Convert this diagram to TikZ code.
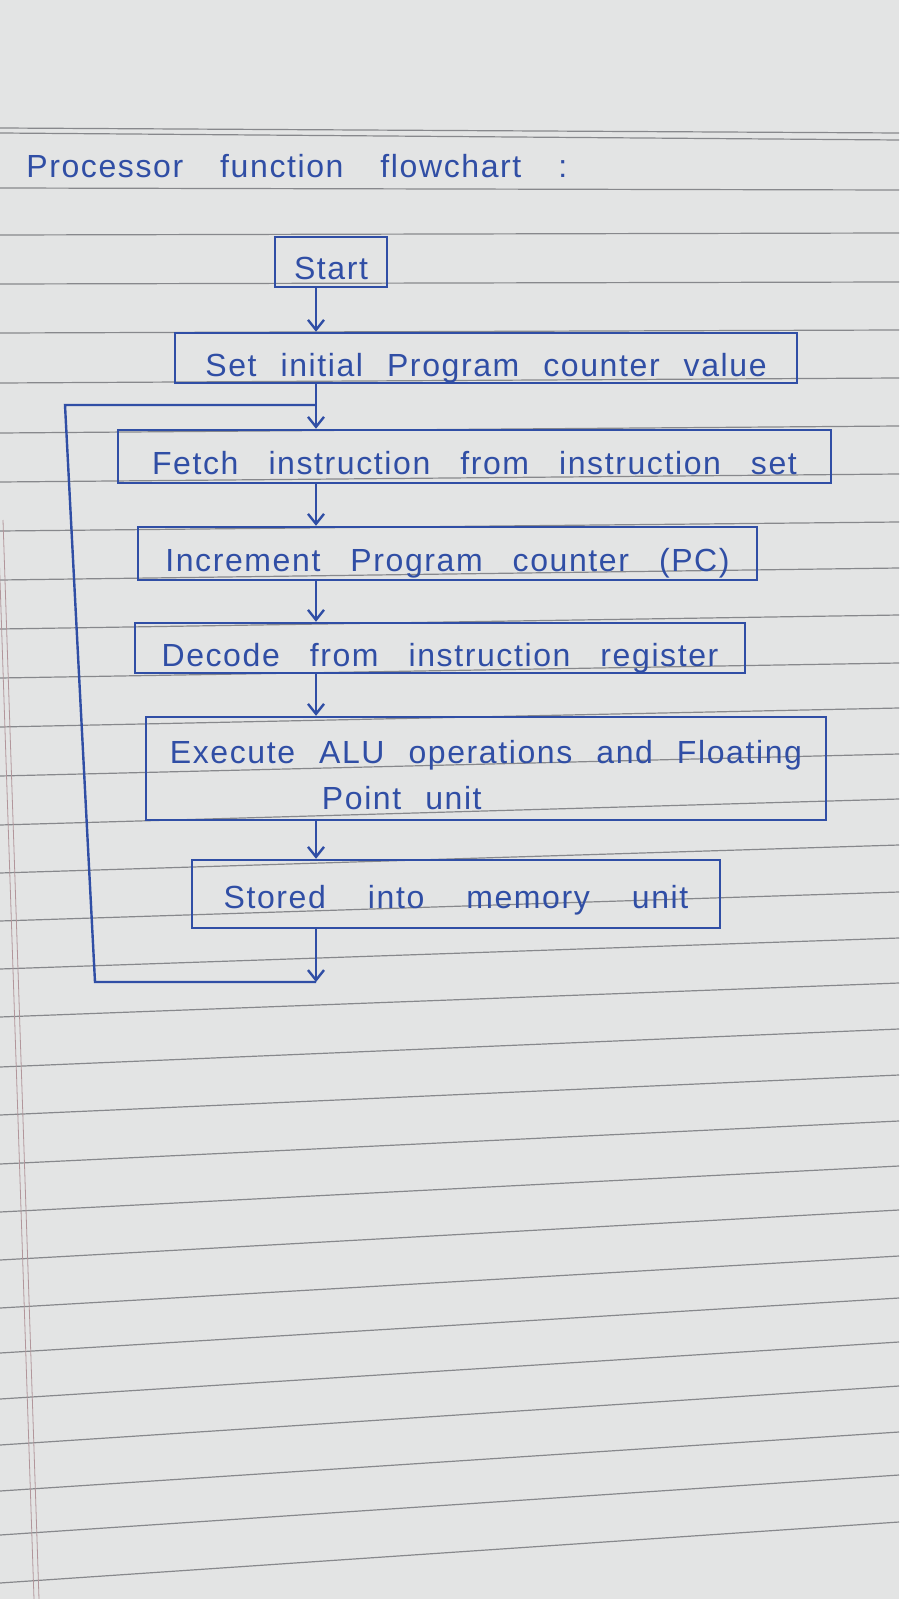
\documentclass[tikz,border=0pt]{standalone}
\usepackage{fontspec}
\setmainfont{Liberation Sans}
\newfontfamily\handfont{Liberation Sans}[LetterSpace=5]
\newcommand\gapn{\spaceskip=15pt\relax}
\newcommand\gapset{\spaceskip=12pt\relax}
\newcommand\gaptitle{\spaceskip=18.5pt\relax}
\newcommand\gapwide{\spaceskip=21pt\relax}
\usetikzlibrary{arrows.meta}
\definecolor{ink}{RGB}{48,78,165}
\definecolor{paper}{RGB}{227,228,228}
\definecolor{rulegray}{RGB}{135,136,140}
\definecolor{marginred}{RGB}{178,150,155}

\begin{document}
\begin{tikzpicture}[x=0.5pt,y=0.5pt,yscale=-1,
  hand/.style={text=ink,inner sep=0pt,font=\handfont\fontsize{16}{23}\selectfont,
    execute at begin node=\gapn},
  boxshape/.style={hand,draw=ink,line width=1.2pt},
  box/.style={boxshape,text height=18pt,text depth=0pt},
  flow/.style={draw=ink,line width=1.2pt,-{Straight Barb[length=5pt,width=8pt]}},
  wire/.style={draw=ink,line width=1.2pt},
  ruling/.style={draw=rulegray,line width=0.6pt}]
\useasboundingbox (0,0) rectangle (899,1599);

% paper
\fill[paper] (0,0) rectangle (899,1599);
\foreach \yl/\yr in {128/133,133/140,188/190,235/233,284/282,333/330,383/378,433/426,
  482/474,531/522,580/568,629/615,678/663,727/708,776/754,825/799,873/845,921/892,
  969/938,1017/983,1067/1029,1115/1075,1164/1121,1212/1166,1260/1210,1308/1256,
  1353/1298,1399/1342,1445/1386,1491/1432,1535/1475,1583/1522}
  \draw[ruling] (0,\yl) -- (899,\yr);
\draw[marginred,line width=0.4pt] (-2,520) -- (34,1599);
\draw[marginred,line width=0.4pt] (3,520) -- (39,1599);

% title
\node[hand,anchor=base west,execute at begin node=\gaptitle] (title) at (26,178) {Processor function flowchart :};

% boxes
\node[box,minimum width=56pt,minimum height=25pt] (start) at (331,262) {Start};
\node[box,minimum width=311pt,minimum height=25pt,execute at begin node=\gapset] (setpc) at (486,358) {Set initial Program counter value};
\node[box,minimum width=356.5pt,minimum height=26.5pt] (fetch) at (474.5,456.5) {Fetch instruction from instruction set};
\node[box,minimum width=309.5pt,minimum height=26.5pt] (incpc) at (447.5,553.5) {Increment Program counter (PC)};
\node[box,minimum width=305pt,minimum height=25pt] (decode) at (440,648) {Decode from instruction register};
\node[boxshape,minimum width=340pt,minimum height=51.5pt,align=left,execute at begin node=\gapset] (execute) at (486,768.5)
  {\rule{0pt}{18pt}Execute ALU operations and Floating\\ \hspace*{76pt}Point unit};
\node[box,minimum width=264pt,minimum height=34pt,text height=14pt,execute at begin node=\gapwide] (stored) at (456,894) {Stored into memory unit};

% connectors
\coordinate (spine) at (316,0);
\coordinate (loopJoin) at (316,405);
\coordinate (loopTL) at (65,405);
\coordinate (loopBL) at (95,982);
\coordinate (loopEnd) at (316,982);

\draw[flow] (start.south -| spine) -- (setpc.north -| spine);
\draw[flow] (setpc.south -| spine) -- (fetch.north -| spine);
\draw[flow] (fetch.south -| spine) -- (incpc.north -| spine);
\draw[flow] (incpc.south -| spine) -- (decode.north -| spine);
\draw[flow] (decode.south -| spine) -- (execute.north -| spine);
\draw[flow] (execute.south -| spine) -- (stored.north -| spine);
\draw[flow] (stored.south -| spine) -- (loopEnd);
\draw[wire] (loopEnd) -- (loopBL) -- (loopTL) -- (loopJoin);

\end{tikzpicture}
\end{document}
